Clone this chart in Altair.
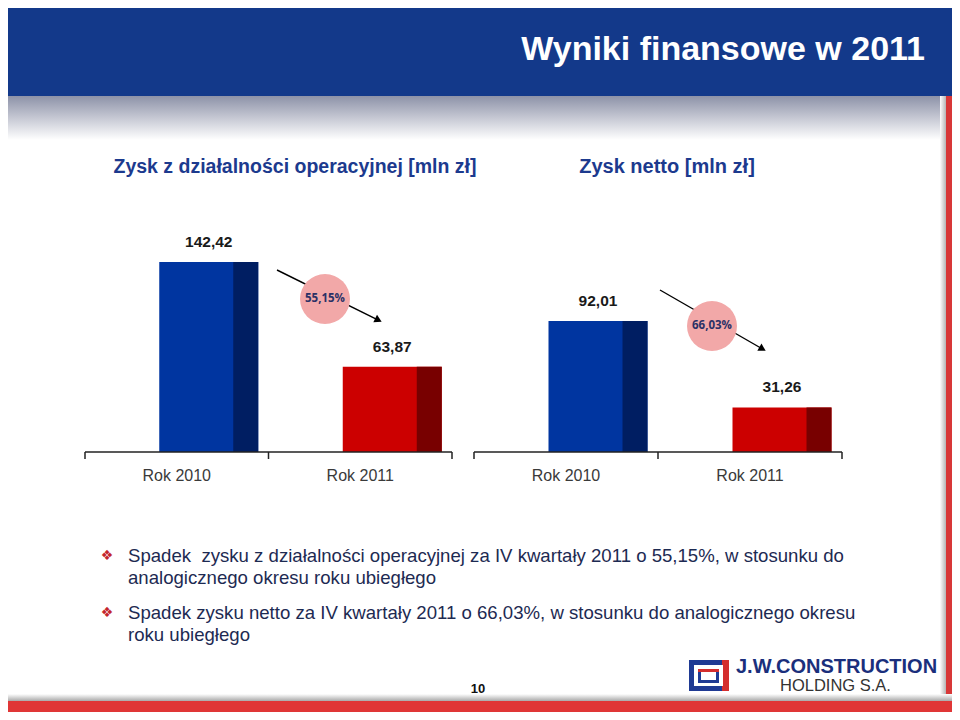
import altair as alt
import pandas as pd
import math

# ---------------- data ----------------
years = ["Rok 2010", "Rok 2011"]
op_profit = [142.42, 63.87]
net_profit = [92.01, 31.26]
op_labels = ["142,42", "63,87"]
net_labels = ["92,01", "31,26"]
op_change = "55,15%"
net_change = "66,03%"

slide_title = "Wyniki finansowe w 2011"
panel_titles = ["Zysk z działalności operacyjnej [mln zł]", "Zysk netto [mln zł]"]
bullet_lines = [
    "Spadek\u00a0 zysku z działalności operacyjnej za IV kwartały 2011 o 55,15%, w stosunku do",
    "analogicznego okresu roku ubiegłego",
    "Spadek zysku netto za IV kwartały 2011 o 66,03%, w stosunku do analogicznego okresu",
    "roku ubiegłego",
]
page_no = "10"

# ---------------- layout / style ----------------
M = 8  # page margin of the html body


def px(v):
    return v - M


W, H = 944, 704
front_colors = ["#0035a0", "#cc0000"]
back_colors = ["#001e62", "#780000"]
DUMMY = pd.DataFrame({"a": [0]})
SANS = "Liberation Sans, Arial, sans-serif"


def rect(x0, x1, y0, y1, color):
    return alt.Chart(DUMMY).mark_rect(color=color).encode(
        x=alt.value(px(x0)), x2=alt.value(px(x1)),
        y=alt.value(px(y0)), y2=alt.value(px(y1)))


def grad_rect(x0, x1, y0, y1, c0, c1, horizontal=False):
    g = alt.Gradient(gradient="linear", x1=0, x2=1 if horizontal else 0,
                     y1=0, y2=0 if horizontal else 1,
                     stops=[alt.GradientStop(color=c0, offset=0),
                            alt.GradientStop(color=c1, offset=1)])
    return alt.Chart(DUMMY).mark_rect(color=g).encode(
        x=alt.value(px(x0)), x2=alt.value(px(x1)),
        y=alt.value(px(y0)), y2=alt.value(px(y1)))


def text(t, x, y, size, color, weight="normal", align="left", font=SANS):
    return alt.Chart(DUMMY).mark_text(
        text=t, fontSize=size, color=color, fontWeight=weight, align=align,
        baseline="middle", font=font).encode(x=alt.value(px(x)), y=alt.value(px(y)))


def line(x0, y0, x1, y1, color="#000000", width=1.3):
    return alt.Chart(DUMMY).mark_rule(color=color, strokeWidth=width).encode(
        x=alt.value(px(x0)), x2=alt.value(px(x1)),
        y=alt.value(px(y0)), y2=alt.value(px(y1)))


def bar_panel(values, labels, x0, x1, ymax, ytop):
    df = pd.DataFrame({"year": years, "value": values, "label": labels,
                       "front": front_colors, "back": back_colors})
    xs = alt.X("year:N", axis=None,
               scale=alt.Scale(domain=years, range=[px(x0), px(x1)],
                               paddingInner=0, paddingOuter=0))
    ys = alt.Y("value:Q", axis=None,
               scale=alt.Scale(domain=[0, ymax], range=[px(452), px(ytop)]))
    base = alt.Chart(df).encode(x=xs, y=ys)
    front = base.mark_bar(width=99, xOffset=32).encode(
        color=alt.Color("front:N", scale=None))
    back = base.mark_bar(width=25, xOffset=69).encode(
        color=alt.Color("back:N", scale=None))
    vals = base.mark_text(xOffset=32, dy=-12, baseline="bottom", fontSize=15.5,
                          fontWeight="bold", color="#1a1a1a", font=SANS).encode(
        text="label:N")
    cats = alt.Chart(df).mark_text(fontSize=16, color="#3a3a3a", font=SANS,
                                   baseline="middle").encode(
        x=xs, y=alt.value(px(476)), text="year:N")
    return alt.layer(front, back, vals, cats)


def axis_deco(x0, x1):
    xm = (x0 + x1) / 2
    return [line(x0, 452, x1, 452, "#222222", 1.5),
            line(x0, 452, x0, 459, "#222222", 1.5),
            line(xm, 452, xm, 459, "#222222", 1.5),
            line(x1, 452, x1, 459, "#222222", 1.5)]


def change_bubble(label, x0, y0, x1, y1, cx, cy, ang):
    a = math.radians(ang)
    hx, hy = x1 - 4 * math.cos(a), y1 - 4 * math.sin(a)
    arrow = line(x0, y0, x1 - 3 * math.cos(a), y1 - 3 * math.sin(a), "#000000", 1.4)
    head = alt.Chart(DUMMY).mark_point(shape="triangle-right", filled=True, size=70,
                                       color="#000000", opacity=1, angle=ang).encode(
        x=alt.value(px(hx)), y=alt.value(px(hy)))
    circ = alt.Chart(DUMMY).mark_point(shape="circle", filled=True, size=2500,
                                       color="#f2a8a8", opacity=1).encode(
        x=alt.value(px(cx)), y=alt.value(px(cy)))
    lbl = text(label, cx, cy, 11.5, "#2b3166", "bold", "center", "Open Sans")
    return [arrow, head, circ, lbl]


bg = []
# header
bg.append(rect(0, 960, 0, 96, "#13398a"))
bg.append(grad_rect(0, 946, 96, 140, "#8d92a8", "#ffffff"))
# right red strip and bottom band
bg.append(grad_rect(940, 946, 96, 700, "#ffffff", "#b5b5b5", horizontal=True))
bg.append(rect(946, 952, 96, 712, "#d83838"))
bg.append(grad_rect(0, 952, 694, 701, "#ffffff", "#a9a9a9"))
bg.append(rect(0, 952, 701, 712, "#e03636"))

deco = []
deco.append(text(slide_title, 925, 50, 34, "#ffffff", "bold", "right",
                 "Liberation Sans Narrow, Liberation Sans, Arial"))
# panel titles
deco.append(text(panel_titles[0], 295, 167, 19.5, "#1c3a8e", "bold", "center"))
deco.append(text(panel_titles[1], 667, 167, 20, "#1c3a8e", "bold", "center"))

# axes
deco += axis_deco(85, 452)
deco += axis_deco(474, 842)

# change bubbles
deco += change_bubble(op_change, 277, 270, 382, 322, 325, 299, 26.3)
deco += change_bubble(net_change, 660, 290, 766, 351, 712, 326, 29.9)

# bullets
for yb in (556, 613):
    deco.append(text("\u2756", 107, yb, 14, "#c4262c", "normal", "center",
                     "DejaVu Sans"))
for t, yl in zip(bullet_lines, (556, 578, 613, 635)):
    deco.append(text(t, 128, yl, 18.6, "#1d2a52"))

# page number
deco.append(text(page_no, 478, 689, 13, "#111111", "bold", "center"))

# logo
deco.append(rect(689, 729, 660, 691, "#1f3a93"))
deco.append(rect(722, 729, 660, 691, "#d42e2e"))
deco.append(rect(694, 723, 665, 686, "#ffffff"))
deco.append(rect(698, 719, 669, 683, "#1f3a93"))
deco.append(rect(698, 719, 669, 672, "#d42e2e"))
deco.append(rect(701, 716, 672, 680, "#ffffff"))
deco.append(text("J.W.CONSTRUCTION", 736, 667, 20, "#1b2f7c", "bold", "left",
                 "Liberation Sans Narrow, Liberation Sans, Arial"))
deco.append(text("HOLDING S.A.", 780, 686, 16.5, "#333333", "normal", "left"))

panel1 = bar_panel(op_profit, op_labels, 85, 452, 150, 452 - 150 * 1.334)
panel2 = bar_panel(net_profit, net_labels, 474, 842, 100, 452 - 100 * 1.424)

chart = alt.layer(alt.layer(*bg), panel1, panel2, alt.layer(*deco)).resolve_scale(
    x="independent", y="independent"
).properties(
    width=W, height=H, padding=0, autosize="none", background="#ffffff"
).configure_view(stroke=None)

chart.save("out.html", embed_options={"renderer": "svg", "actions": False})
